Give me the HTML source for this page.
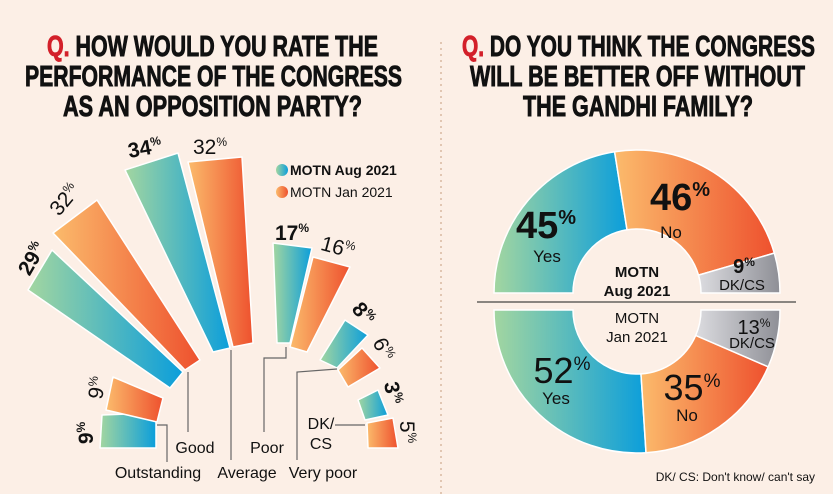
<!DOCTYPE html>
<html><head><meta charset="utf-8"><style>
html,body{margin:0;padding:0;background:#fcefe6;}
svg{display:block;}
text{font-family:"Liberation Sans Narrow","Liberation Sans",sans-serif;fill:#111;}
.t{font-weight:bold;font-size:29px;stroke:#111;stroke-width:0.9;}
.b{font-weight:bold;}
</style></head><body>
<svg width="833" height="494" viewBox="0 0 833 494" xmlns="http://www.w3.org/2000/svg">
<defs>
<linearGradient id="gb" x1="0" y1="0" x2="1" y2="0"><stop offset="0" stop-color="#a3d6a0"/><stop offset="1" stop-color="#0b9edb"/></linearGradient>
<linearGradient id="go" x1="0" y1="0" x2="1" y2="0"><stop offset="0" stop-color="#fbbb6c"/><stop offset="1" stop-color="#ee512e"/></linearGradient>
<linearGradient id="gg" x1="0" y1="0" x2="1" y2="0"><stop offset="0" stop-color="#dcdce0"/><stop offset="1" stop-color="#8e8f96"/></linearGradient>
</defs>
<rect width="833" height="494" fill="#fcefe6"/>
<line x1="441" y1="42" x2="441" y2="494" stroke="#d8b9a0" stroke-width="1.5" stroke-dasharray="2,4"/>

<text class="t" x="47" y="56" textLength="331" lengthAdjust="spacingAndGlyphs"><tspan fill="#d3202a" stroke="#d3202a">Q.</tspan> HOW WOULD YOU RATE THE</text>
<text class="t" x="25" y="86" textLength="377" lengthAdjust="spacingAndGlyphs">PERFORMANCE OF THE CONGRESS</text>
<text class="t" x="63" y="116" textLength="299" lengthAdjust="spacingAndGlyphs">AS AN OPPOSITION PARTY?</text>
<text class="t" x="462" y="56" textLength="353" lengthAdjust="spacingAndGlyphs"><tspan fill="#d3202a" stroke="#d3202a">Q.</tspan> DO YOU THINK THE CONGRESS</text>
<text class="t" x="470" y="86" textLength="335" lengthAdjust="spacingAndGlyphs">WILL BE BETTER OFF WITHOUT</text>
<text class="t" x="523" y="116" textLength="230" lengthAdjust="spacingAndGlyphs">THE GANDHI FAMILY?</text>

<g stroke="#fff" stroke-width="1.5" stroke-linejoin="round">
<polygon fill="url(#gb)" points="102,415 156,413 156,448 100,448"/>
<polygon fill="url(#go)" points="113,377 163,398 157,422 106,410"/>
<polygon fill="url(#gb)" points="52,250 183,372 170,388 28,290"/>
<polygon fill="url(#go)" points="97,200 200,360 185,370 53,233"/>
<polygon fill="url(#gb)" points="125,170 178,153 230,348 213,352"/>
<polygon fill="url(#go)" points="188,162 242,157 253,343 233,347"/>
<polygon fill="url(#gb)" points="273,243 312,248 290,343 277,343"/>
<polygon fill="url(#go)" points="313,257 350,267 307,352 290,347"/>
<polygon fill="url(#gb)" points="345,320 368,335 337,368 320,360"/>
<polygon fill="url(#go)" points="362,348 380,368 348,387 338,370"/>
<polygon fill="url(#gb)" points="378,390 388,415 365,420 358,400"/>
<polygon fill="url(#go)" points="393,418 398,448 368,448 367,423"/>
</g>
<g stroke="#666" stroke-width="1.2" fill="none">
<polyline points="157,425 167,425 167,462"/>
<polyline points="188,372 188,432"/>
<polyline points="231,350 231,460"/>
<polyline points="286,347 286,358 264,358 264,432"/>
<polyline points="337,369 297,372 297,460"/>
<polyline points="335,425 365,425"/>
</g>
<g font-size="21" text-anchor="middle">
<text class="b" transform="translate(38,262) rotate(-60)">29<tspan font-size="12" dy="-8">%</tspan></text>
<text transform="translate(70,204) rotate(-50)">32<tspan font-size="12" dy="-8">%</tspan></text>
<text class="b" transform="translate(146,155) rotate(-10)">34<tspan font-size="12" dy="-8">%</tspan></text>
<text transform="translate(210,154)">32<tspan font-size="12" dy="-8">%</tspan></text>
<text class="b" transform="translate(292,240)">17<tspan font-size="12" dy="-8">%</tspan></text>
<text transform="translate(336,254) rotate(15)">16<tspan font-size="12" dy="-8">%</tspan></text>
<text class="b" transform="translate(358,318) rotate(50)">8<tspan font-size="12" dy="-8">%</tspan></text>
<text transform="translate(377,352) rotate(65)">6<tspan font-size="12" dy="-8">%</tspan></text>
<text class="b" transform="translate(386,394) rotate(80)">3<tspan font-size="12" dy="-8">%</tspan></text>
<text transform="translate(400,432) rotate(90)">5<tspan font-size="12" dy="-8">%</tspan></text>
<text class="b" transform="translate(93,433) rotate(-90)">9<tspan font-size="12" dy="-8">%</tspan></text>
<text transform="translate(104,389) rotate(-80)">9<tspan font-size="12" dy="-8">%</tspan></text>
</g>
<g font-size="16" text-anchor="middle">
<text x="195" y="453">Good</text>
<text x="267" y="453">Poor</text>
<text x="158" y="478">Outstanding</text>
<text x="247" y="478">Average</text>
<text x="323" y="478">Very poor</text>
<text x="321" y="429">DK/</text>
<text x="321" y="449">CS</text>
</g>
<circle cx="282" cy="170" r="6" fill="url(#gb)"/>
<text class="b" x="290" y="175" font-size="14">MOTN Aug 2021</text>
<circle cx="282" cy="192" r="6" fill="url(#go)"/>
<text x="290" y="197" font-size="14">MOTN Jan 2021</text>

<g stroke="#fff" stroke-width="1.5">
<path fill="url(#gb)" d="M494,293 A143,143 0 0 1 614.6,151.8 L627,229.8 A64,64 0 0 0 573,293 Z"/>
<path fill="url(#go)" d="M614.6,151.8 A143,143 0 0 1 774.3,253.1 L698.5,275.1 A64,64 0 0 0 627,229.8 Z"/>
<path fill="url(#gg)" d="M774.3,253.1 A143,143 0 0 1 780,293 L701,293 A64,64 0 0 0 698.5,275.1 Z"/>
<path fill="url(#gb)" d="M494,310 A143,143 0 0 0 646,452.7 L641,373.9 A64,64 0 0 1 573,310 Z"/>
<path fill="url(#go)" d="M646,452.7 A143,143 0 0 0 768.2,366.8 L695.7,335.4 A64,64 0 0 1 641,373.9 Z"/>
<path fill="url(#gg)" d="M768.2,366.8 A143,143 0 0 0 780,310 L701,310 A64,64 0 0 1 695.7,335.4 Z"/>
</g>
<line x1="477" y1="302" x2="796" y2="302" stroke="#8a8580" stroke-width="2"/>
<g text-anchor="middle">
<text class="b" x="546" y="238" font-size="38">45<tspan font-size="20" dy="-14">%</tspan></text>
<text x="547" y="262" font-size="17">Yes</text>
<text class="b" x="680" y="210" font-size="38">46<tspan font-size="20" dy="-14">%</tspan></text>
<text x="671" y="238" font-size="17">No</text>
<text class="b" x="744" y="273" font-size="20">9<tspan font-size="12" dy="-7">%</tspan></text>
<text x="742" y="290" font-size="15">DK/CS</text>
<text class="b" x="637" y="277" font-size="15">MOTN</text>
<text class="b" x="637" y="296" font-size="15">Aug 2021</text>
<text x="637" y="323" font-size="15">MOTN</text>
<text x="637" y="342" font-size="15">Jan 2021</text>
<text x="754" y="334" font-size="20">13<tspan font-size="12" dy="-7">%</tspan></text>
<text x="752" y="348" font-size="15">DK/CS</text>
<text x="562" y="383" font-size="36">52<tspan font-size="19" dy="-13">%</tspan></text>
<text x="556" y="404" font-size="17">Yes</text>
<text x="692" y="400" font-size="36">35<tspan font-size="19" dy="-13">%</tspan></text>
<text x="687" y="421" font-size="17">No</text>
</g>
<text x="815" y="481" font-size="12" text-anchor="end">DK/ CS: Don't know/ can't say</text>
</svg>
</body></html>
